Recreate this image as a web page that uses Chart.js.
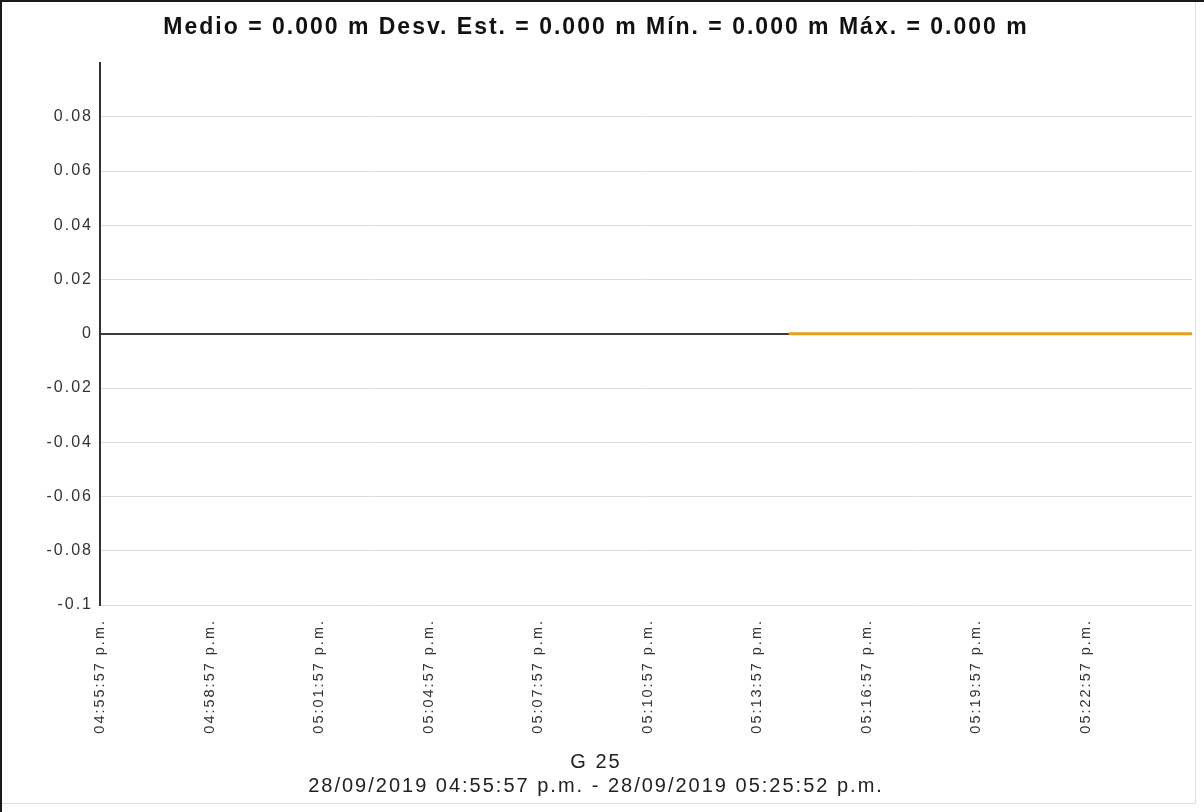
<!DOCTYPE html>
<html>
<head>
<meta charset="utf-8">
<script src="https://cdn.jsdelivr.net/npm/chart.js@4.4.1/dist/chart.umd.min.js"></script>
<style>
  html, body { margin: 0; padding: 0; background: #ffffff; }
  canvas { display: block; }
</style>
</head>
<body>
<canvas id="c" width="1204" height="812"></canvas>
<script>
// ---- data ----
const chartTitle = 'Medio = 0.000 m Desv. Est. = 0.000 m Mín. = 0.000 m Máx. = 0.000 m';
const bottomTitleLines = ['G 25', '28/09/2019 04:55:57 p.m. - 28/09/2019 05:25:52 p.m.'];
const startTime = '04:55:57 p.m.';
const endTime = '05:25:52 p.m.';
const tickLabels = ['04:55:57 p.m.', '04:58:57 p.m.', '05:01:57 p.m.', '05:04:57 p.m.', '05:07:57 p.m.',
                    '05:10:57 p.m.', '05:13:57 p.m.', '05:16:57 p.m.', '05:19:57 p.m.', '05:22:57 p.m.'];
const yTickValues = [0.08, 0.06, 0.04, 0.02, 0, -0.02, -0.04, -0.06, -0.08, -0.1];
const sampleTimes = ['05:14:49 p.m.', '05:15:50 p.m.', '05:16:51 p.m.', '05:17:52 p.m.', '05:18:53 p.m.',
                     '05:19:54 p.m.', '05:20:55 p.m.', '05:21:56 p.m.', '05:22:57 p.m.', '05:23:58 p.m.',
                     '05:24:59 p.m.', '05:25:52 p.m.'];
const sampleValues = [0, 0, 0, 0, 0, 0, 0, 0, 0, 0, 0, 0];

function toSec(t) {
  const parts = t.split(' ');
  const hms = parts[0].split(':').map(Number);
  let h = hms[0];
  if (parts[1] === 'p.m.' && h !== 12) h += 12;
  return h * 3600 + hms[1] * 60 + hms[2];
}
const t0 = toSec(startTime);
const tickOffsets = tickLabels.map(l => toSec(l) - t0);
const points = sampleTimes.map((t, i) => ({ x: toSec(t) - t0, y: sampleValues[i] }));

const framePlugin = {
  id: 'frame',
  beforeDraw(chart) {
    const ctx = chart.ctx;
    ctx.save();
    ctx.fillStyle = '#ffffff';
    ctx.fillRect(0, 0, chart.width, chart.height);
    ctx.restore();
    ctx.letterSpacing = '2px';
  },
  afterDraw(chart) {
    const ctx = chart.ctx;
    ctx.save();
    ctx.letterSpacing = '0px';
    ctx.strokeStyle = '#1a1a1a';
    ctx.lineWidth = 2;
    ctx.beginPath();
    ctx.moveTo(1, 812); ctx.lineTo(1, 1); ctx.lineTo(1204, 1);
    ctx.stroke();
    ctx.strokeStyle = '#dedede';
    ctx.lineWidth = 1;
    ctx.beginPath();
    ctx.moveTo(1195.5, 2); ctx.lineTo(1195.5, 803.5); ctx.lineTo(2, 803.5);
    ctx.stroke();
    ctx.restore();
  }
};

new Chart(document.getElementById('c'), {
  type: 'scatter',
  data: {
    datasets: [{
      data: points,
      showLine: true,
      borderColor: '#E6A01C',
      backgroundColor: '#E6A01C',
      borderWidth: 3,
      pointRadius: 0,
      tension: 0
    }]
  },
  options: {
    responsive: false,
    animation: false,
    devicePixelRatio: 1,
    layout: { padding: { left: 0, right: 12, top: 0, bottom: 0 } },
    plugins: {
      legend: { display: false },
      tooltip: { enabled: false },
      title: {
        display: true,
        text: chartTitle,
        color: '#111111',
        font: { family: 'Liberation Sans', size: 23, weight: 'bold', lineHeight: 1.2 },
        padding: { top: 14, bottom: 21 }
      },
      subtitle: {
        display: true,
        position: 'bottom',
        text: bottomTitleLines,
        color: '#222222',
        font: { family: 'Liberation Sans', size: 20, lineHeight: 1.2 },
        padding: { top: 0, bottom: 14 }
      }
    },
    scales: {
      x: {
        type: 'linear',
        min: 0,
        max: toSec(endTime) - t0,
        afterBuildTicks(scale) {
          scale.ticks = tickOffsets.map(v => ({ value: v }));
        },
        afterFit(scale) { scale.height = 145; },
        grid: { display: false, drawTicks: false },
        border: { display: false },
        ticks: {
          autoSkip: false,
          minRotation: 90,
          maxRotation: 90,
          padding: 14,
          color: '#333333',
          font: { family: 'Liberation Sans', size: 14.5 },
          callback(value) {
            const i = tickOffsets.indexOf(value);
            return i >= 0 ? tickLabels[i] : null;
          }
        }
      },
      y: {
        min: -0.1,
        max: 0.1,
        afterBuildTicks(scale) {
          scale.ticks = yTickValues.map(v => ({ value: v }));
        },
        afterFit(scale) { scale.width = 100; },
        border: { display: true, color: '#333333', width: 2 },
        grid: {
          drawTicks: false,
          color(ctx) { return (ctx.tick && ctx.tick.value === 0) ? '#3c3c3c' : '#dcdcdc'; },
          lineWidth(ctx) { return (ctx.tick && ctx.tick.value === 0) ? 2 : 1; }
        },
        ticks: {
          padding: 7,
          color: '#333333',
          font: { family: 'Liberation Sans', size: 16 },
          callback(value) { return String(Math.round(value * 100) / 100); }
        }
      }
    }
  },
  plugins: [framePlugin]
});
</script>
</body>
</html>
